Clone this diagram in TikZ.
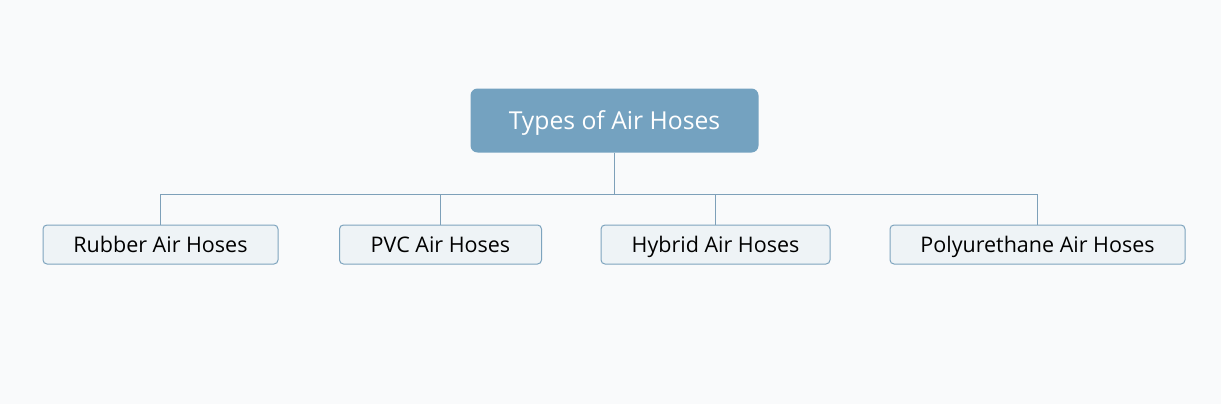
\documentclass[tikz,border=0pt]{standalone}
\usepackage{fontspec}
\setmainfont{Open Sans}
\definecolor{bg}{HTML}{F9FAFB}
\definecolor{rootfill}{HTML}{74A2C0}
\definecolor{childfill}{HTML}{EEF3F6}
\definecolor{childdraw}{HTML}{7EA4BE}
\definecolor{linec}{HTML}{7EA0B9}
\begin{document}
\begin{tikzpicture}[x=1pt,y=-1pt,
  rootbox/.style={fill=rootfill,draw=none,rounded corners=7pt,minimum width=288pt,minimum height=64pt,text=white,font=\fontsize{24.7pt}{28pt}\selectfont,inner sep=0pt,text height=17.6pt,text depth=0pt},
  childbox/.style={fill=childfill,draw=childdraw,line width=1pt,rounded corners=4pt,minimum height=39pt,text=black,font=\fontsize{21.5pt}{24pt}\selectfont,inner sep=0pt,text height=15.4pt,text depth=0pt},
  conn/.style={draw=linec,line width=1.2pt}]
\fill[bg] (0,0) rectangle (1221,404);
\useasboundingbox (0,0) rectangle (1221,404);
\node[rootbox] (root) at (614.5,120.5) {Types of Air Hoses};
\node[childbox,minimum width=235pt] (c1) at (160.5,244.5) {Rubber Air Hoses};
\node[childbox,minimum width=202pt] (c2) at (440.5,244.5) {PVC Air Hoses};
\node[childbox,minimum width=229pt] (c3) at (715.5,244.5) {Hybrid Air Hoses};
\node[childbox,minimum width=295pt] (c4) at (1037.5,244.5) {Polyurethane Air Hoses};
\coordinate (bar) at (614.5,194.5);
\draw[conn] (root.south) -- (bar);
\foreach \c in {c1,c2,c3,c4}{
  \draw[conn] (bar) -| (\c.north);
}
\end{tikzpicture}
\end{document}
